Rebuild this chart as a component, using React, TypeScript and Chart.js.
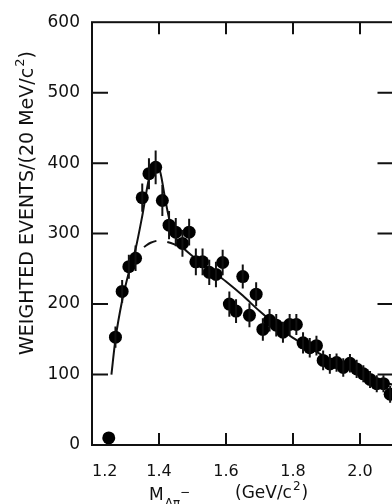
import { useEffect, useRef } from "react";
import { Chart, registerables } from "chart.js";

Chart.register(...registerables);

// Measured data (bin centres, GeV/c^2) and weighted events per 20 MeV/c^2
const massBins = [
  1.25, 1.27, 1.29, 1.31, 1.33, 1.35, 1.37, 1.39, 1.41, 1.43, 1.45, 1.47, 1.49,
  1.51, 1.53, 1.55, 1.57, 1.59, 1.61, 1.63, 1.65, 1.67, 1.69, 1.71, 1.73, 1.75,
  1.77, 1.79, 1.81, 1.83, 1.85, 1.87, 1.89, 1.91, 1.93, 1.95, 1.97, 1.99, 2.01,
  2.03, 2.05, 2.07, 2.09,
];
const weightedEvents = [
  10, 153, 218, 253, 265, 351, 385, 394, 347, 312, 302, 286, 302,
  260, 260, 245, 242, 259, 200, 190, 239, 184, 214, 164, 177, 170,
  160, 171, 171, 145, 138, 141, 120, 115, 117, 110, 116, 108, 101,
  93, 87, 87, 72,
];
const eventErrors = [
  0, 15, 16, 17, 18, 20, 22, 24, 22, 20, 20, 19, 19,
  19, 19, 18, 18, 18, 18, 17, 17, 17, 17, 16, 16, 16,
  15, 15, 15, 15, 14, 14, 14, 14, 13, 13, 13, 13, 12,
  12, 12, 12, 12,
];

// Fitted curve (solid)
const fitMass = [
  1.258, 1.27, 1.29, 1.31, 1.33, 1.35, 1.37, 1.385, 1.395, 1.405, 1.42, 1.435,
  1.45, 1.47, 1.5, 1.55, 1.6, 1.65, 1.7, 1.75, 1.8, 1.85, 1.9, 1.95, 2.0, 2.05, 2.1,
];
const fitEvents = [
  100, 150, 205, 245, 278, 325, 378, 396, 399, 385, 345, 312,
  294, 281, 268, 250, 232, 212, 190, 170, 152, 138, 124, 112, 102, 93, 85,
];

// Background under the peak (dashed)
const bgMass = [1.355, 1.375, 1.4, 1.425, 1.45, 1.47];
const bgEvents = [281, 287, 290, 288, 284, 280];

const xAxisTicks = [1.2, 1.4, 1.6, 1.8, 2.0, 2.1];
const xLabeledTicks = [1.2, 1.4, 1.6, 1.8, 2.0];
const xTickMarks = [1.4, 1.6, 1.8, 2.0];
const yTickMarks = [100, 200, 300, 400, 500];

const FONT = "'DejaVu Sans', sans-serif";
const INK = "#111";

const framePlugin = {
  id: "frameAndExtras",
  afterDatasetsDraw(chart: any) {
    const { ctx, scales } = chart;
    const x = scales.x;
    const y = scales.y;
    ctx.save();
    ctx.strokeStyle = INK;
    ctx.lineWidth = 2;
    ctx.beginPath();
    massBins.forEach((m, i) => {
      const e = eventErrors[i];
      if (!e) return;
      const px = x.getPixelForValue(m);
      ctx.moveTo(px, y.getPixelForValue(weightedEvents[i] - e));
      ctx.lineTo(px, y.getPixelForValue(weightedEvents[i] + e));
    });
    ctx.stroke();
    ctx.restore();
  },
  afterDraw(chart: any) {
    const { ctx, chartArea, scales } = chart;
    const { left, right, top, bottom } = chartArea;
    const x = scales.x;
    const y = scales.y;
    ctx.save();
    ctx.strokeStyle = INK;
    ctx.lineWidth = 2;
    ctx.strokeRect(left, top, right - left, bottom - top);
    ctx.beginPath();
    xTickMarks.forEach((v) => {
      const px = x.getPixelForValue(v);
      ctx.moveTo(px, bottom);
      ctx.lineTo(px, bottom - 12);
      ctx.moveTo(px, top);
      ctx.lineTo(px, top + 12);
    });
    yTickMarks.forEach((v) => {
      const py = y.getPixelForValue(v);
      ctx.moveTo(left, py);
      ctx.lineTo(left + 16, py);
      ctx.moveTo(right, py);
      ctx.lineTo(right - 16, py);
    });
    ctx.stroke();

    ctx.fillStyle = INK;
    ctx.textBaseline = "alphabetic";
    ctx.textAlign = "left";

    // Y title (rotated)
    const main = "WEIGHTED EVENTS/(20 MeV/c";
    let f = 16;
    const measure = (fs: number) => {
      ctx.font = `${fs}px ${FONT}`;
      const a = ctx.measureText(main).width;
      const c = ctx.measureText(")").width;
      ctx.font = `${fs * 0.68}px ${FONT}`;
      const b = ctx.measureText("2").width;
      return a + b + c;
    };
    f = (f * 303) / measure(f);
    ctx.save();
    ctx.translate(33, 355);
    ctx.rotate(-Math.PI / 2);
    ctx.font = `${f}px ${FONT}`;
    ctx.fillText(main, 0, 0);
    let u = ctx.measureText(main).width;
    ctx.font = `${f * 0.68}px ${FONT}`;
    ctx.fillText("2", u + 1, -0.45 * f);
    u += ctx.measureText("2").width + 1;
    ctx.font = `${f}px ${FONT}`;
    ctx.fillText(")", u, 0);
    ctx.restore();

    // X title
    ctx.font = `17px ${FONT}`;
    ctx.fillText("M", 149, 500);
    const mw = ctx.measureText("M").width;
    ctx.font = `12px ${FONT}`;
    ctx.fillText("Λπ", 149 + mw + 1, 507);
    const sw = ctx.measureText("Λπ").width;
    ctx.fillText("−", 149 + mw + 1 + sw, 496);
    ctx.font = `17px ${FONT}`;
    ctx.fillText("(GeV/c", 235, 498);
    const gw = ctx.measureText("(GeV/c").width;
    ctx.font = `12px ${FONT}`;
    ctx.fillText("2", 235 + gw + 1, 490);
    const tw = ctx.measureText("2").width;
    ctx.font = `17px ${FONT}`;
    ctx.fillText(")", 235 + gw + 2 + tw, 498);
    ctx.restore();
  },
};

export default function App() {
  const canvasRef = useRef<HTMLCanvasElement | null>(null);

  useEffect(() => {
    document.body.style.margin = "0";
    const canvas = canvasRef.current;
    if (!canvas) return;
    const chart = new Chart(canvas, {
      type: "scatter",
      data: {
        datasets: [
          {
            label: "data",
            data: massBins.map((m, i) => ({ x: m, y: weightedEvents[i] })),
            pointRadius: 6.5,
            pointBackgroundColor: "#000",
            pointBorderWidth: 0,
            showLine: false,
            order: 0,
          } as any,
          {
            label: "fit",
            data: fitMass.map((m, i) => ({ x: m, y: fitEvents[i] })),
            showLine: true,
            pointRadius: 0,
            borderColor: INK,
            borderWidth: 2,
            cubicInterpolationMode: "monotone",
            order: 1,
          } as any,
          {
            label: "background",
            data: bgMass.map((m, i) => ({ x: m, y: bgEvents[i] })),
            showLine: true,
            pointRadius: 0,
            borderColor: INK,
            borderWidth: 2,
            borderDash: [14, 11],
            cubicInterpolationMode: "monotone",
            order: 2,
          } as any,
        ],
      },
      options: {
        responsive: false,
        animation: false,
        devicePixelRatio: 1,
        layout: { padding: { top: 11, right: 2, left: 0, bottom: 0 } },
        plugins: { legend: { display: false }, tooltip: { enabled: false } },
        scales: {
          x: {
            type: "linear",
            min: 1.2,
            max: 2.1,
            grid: { display: false, drawTicks: false },
            border: { display: false },
            afterBuildTicks: (s: any) => {
              s.ticks = xAxisTicks.map((v) => ({ value: v }));
            },
            ticks: {
              align: "inner",
              padding: 17,
              color: INK,
              font: { family: FONT, size: 16 },
              callback: (v: any) => {
                const n = Number(v);
                return xLabeledTicks.some((t) => Math.abs(t - n) < 1e-6) ? n.toFixed(1) : "";
              },
            },
            afterFit: (s: any) => {
              s.height = 59;
              s.paddingLeft = 0;
              s.paddingRight = 0;
            },
          },
          y: {
            type: "linear",
            min: 0,
            max: 600,
            grid: { display: false, drawTicks: false },
            border: { display: false },
            ticks: {
              stepSize: 100,
              padding: 12,
              color: INK,
              font: { family: FONT, size: 17 },
            },
            afterFit: (s: any) => {
              s.width = 92;
            },
          },
        },
      } as any,
      plugins: [framePlugin],
    });
    return () => chart.destroy();
  }, []);

  return (
    <div style={{ width: 392, height: 504, overflow: "hidden", position: "relative", background: "#fff" }}>
      <canvas ref={canvasRef} width={400} height={504} style={{ display: "block", width: 400, height: 504 }} />
    </div>
  );
}
